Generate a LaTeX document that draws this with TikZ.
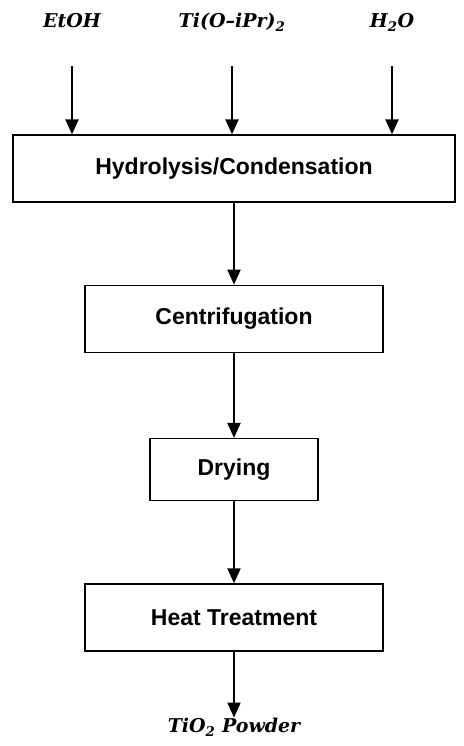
\documentclass[tikz,border=0pt]{standalone}
\usepackage{fontspec}
\setsansfont{Liberation Sans}
\newfontfamily\reagentfont{DejaVu Serif}
\usetikzlibrary{positioning, arrows.meta}
\tikzset{
  stepbox/.style = {rectangle, draw = black, line width = 1.3pt, inner sep = 0pt,
                    minimum height = 67pt, text centered,
                    font = \sffamily\bfseries\fontsize{23}{26}\selectfont},
  reagent/.style = {inner sep = 2pt, text height = 13pt, text depth = 4pt,
                    font = \reagentfont\bfseries\itshape\fontsize{19}{22}\selectfont},
  flow/.style = {draw = black, line width = 2pt,
                 -{Triangle[length = 15pt, width = 13pt]}}
}

\begin{document}
\begin{tikzpicture}
  \useasboundingbox (0pt,0pt) rectangle (463pt,-746pt);

  \node [stepbox, minimum width = 442pt] (hyd) at (234pt,-168.5pt) {Hydrolysis/Condensation};
  \node [stepbox, minimum width = 298pt, below = 82pt of hyd] (cent) {Centrifugation};
  \node [stepbox, minimum width = 168pt, minimum height = 62pt, below = 85pt of cent] (dry) {Drying};
  \node [stepbox, minimum width = 298pt, below = 82pt of dry] (heat) {Heat Treatment};
  \node [reagent, below = 66pt of heat] (powder) {TiO\textsubscript{2} Powder};

  \node [reagent] (etoh) at (72pt,-23pt) {EtOH};
  \node [reagent] (tipr) at (232pt,-23pt) {Ti(O–iPr)\textsubscript{2}};
  \node [reagent] (water) at (392pt,-23pt) {H\textsubscript{2}O};

  \path [flow, shorten <= 32pt]
        (etoh) edge (etoh |- hyd.north)
        (tipr) edge (tipr |- hyd.north)
        (water) edge (water |- hyd.north);

  \path [flow]
        (hyd) edge (cent)
        (cent) edge (dry)
        (dry) edge (heat)
        (heat) edge (powder);
\end{tikzpicture}
\end{document}
